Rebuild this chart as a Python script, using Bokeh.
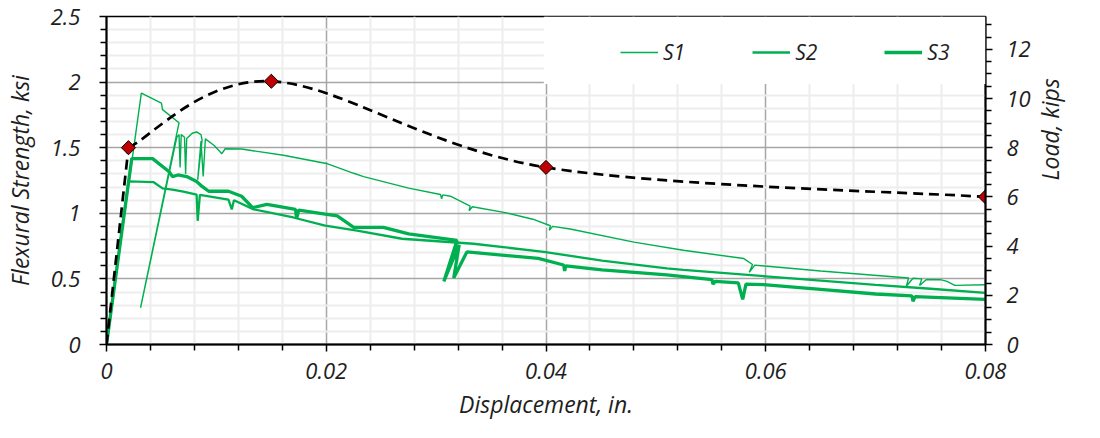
import math
from bokeh.plotting import figure
from bokeh.models import (Range1d, LinearAxis, FixedTicker, Legend, LegendItem,
                          BoxAnnotation)
from bokeh.embed import file_html
from bokeh.resources import INLINE

# ---------------- data ----------------
x_ticks = [0.0, 0.02, 0.04, 0.06, 0.08]
x_tick_labels = ["0", "0.02", "0.04", "0.06", "0.08"]
y_ticks = [0.0, 0.5, 1.0, 1.5, 2.0, 2.5]
y_tick_labels = ["0", "0.5", "1", "1.5", "2", "2.5"]
load_ticks = [0, 2, 4, 6, 8, 10, 12]

s1_x = [0.0, 0.00317, 0.0050, 0.0051, 0.0066, 0.0031, 0.0064, 0.0066, 0.0067, 0.0068,
        0.0071, 0.0072, 0.0073, 0.0078, 0.0082, 0.0086, 0.0087, 0.0083, 0.0086, 0.0088,
        0.0090, 0.0098, 0.0105, 0.0108, 0.0123, 0.0161, 0.0200, 0.0225, 0.0234, 0.0275,
        0.0304, 0.0305, 0.0306, 0.0313, 0.0331, 0.0330, 0.0333, 0.0363, 0.0388, 0.0404,
        0.0403, 0.0406, 0.0422, 0.0480, 0.0525, 0.0575, 0.0580, 0.0588, 0.0585, 0.0590,
        0.0650, 0.0730, 0.0728, 0.0734, 0.0742, 0.0740, 0.0746, 0.0759, 0.0765, 0.0772,
        0.0800]
s1_y = [0.0, 1.916, 1.840, 1.790, 1.690, 0.280, 1.580, 1.600, 1.350, 1.600,
        1.580, 1.300, 1.570, 1.610, 1.620, 1.600, 1.560, 1.255, 1.550, 1.280,
        1.567, 1.517, 1.454, 1.492, 1.490, 1.442, 1.380, 1.305, 1.280, 1.192,
        1.143, 1.110, 1.140, 1.130, 1.055, 1.020, 1.050, 1.005, 0.955, 0.905,
        0.870, 0.900, 0.880, 0.780, 0.718, 0.661, 0.655, 0.610, 0.550, 0.605,
        0.560, 0.507, 0.444, 0.505, 0.500, 0.450, 0.494, 0.494, 0.481, 0.451,
        0.455]

s2_x = [0.0, 0.0020, 0.0043, 0.0051, 0.0060, 0.0070, 0.0082, 0.0083, 0.0085, 0.0100,
        0.0111, 0.0114, 0.0116, 0.0134, 0.0170, 0.0199, 0.0228, 0.0269, 0.0334, 0.0398,
        0.0451, 0.0510, 0.0525, 0.0600, 0.0700, 0.0750, 0.0800]
s2_y = [0.0, 1.243, 1.237, 1.190, 1.180, 1.165, 1.143, 0.943, 1.140, 1.120,
        1.105, 1.030, 1.100, 1.030, 0.968, 0.906, 0.868, 0.806, 0.768, 0.706,
        0.640, 0.581, 0.569, 0.520, 0.455, 0.425, 0.394]

s3_x = [0.0, 0.0023, 0.0042, 0.0057, 0.0060, 0.0065, 0.0073, 0.0082, 0.0087, 0.0093,
        0.0111, 0.0123, 0.0133, 0.0146, 0.0172, 0.0173, 0.0175, 0.0199, 0.0210, 0.0225,
        0.0252, 0.0275, 0.0319, 0.0307, 0.0321, 0.0316, 0.0328, 0.0393, 0.0416, 0.0417,
        0.0418, 0.0451, 0.0510, 0.0551, 0.0552, 0.0554, 0.0575, 0.0579, 0.0582, 0.0598,
        0.0650, 0.0700, 0.0733, 0.0734, 0.0736, 0.0800]
s3_y = [0.0, 1.417, 1.417, 1.317, 1.280, 1.292, 1.280, 1.243, 1.205, 1.168,
        1.168, 1.130, 1.043, 1.068, 1.030, 0.960, 1.025, 0.993, 0.980, 0.893,
        0.893, 0.843, 0.793, 0.481, 0.760, 0.507, 0.706, 0.656, 0.606, 0.560,
        0.600, 0.569, 0.530, 0.494, 0.460, 0.481, 0.470, 0.344, 0.460, 0.457,
        0.420, 0.385, 0.370, 0.330, 0.365, 0.344]

load_x = [0.0, 0.002, 0.015, 0.04, 0.08]
load_kips = [0.0, 8.0, 10.7, 7.2, 6.0]

KSI_TO_KIPS = 16.0 / 3.0

# ---------------- styling ----------------
FONT = "Open Sans"
GREEN = "#00B050"
TXT = "#1e1e1e"

p = figure(width=1084, height=422, output_backend="svg", toolbar_location=None,
           x_range=Range1d(0, 0.08), y_range=Range1d(0, 2.5),
           min_border_left=104, min_border_right=79, min_border_top=16,
           min_border_bottom=76, background_fill_color="white",
           border_fill_color="white")
p.extra_y_ranges = {"load": Range1d(0, 2.5 * KSI_TO_KIPS)}
p.outline_line_color = "black"
p.outline_line_width = 1.5

# minor positions (major positions excluded so the grid does not overdraw)
x_minor = [i * 0.004 for i in range(21) if i % 5]
y_minor = [i * 0.1 for i in range(26) if i % 5]
load_minor = [i * 0.5 for i in range(27) if i % 4]

left = p.left[0]
bottom = p.below[0]
left.ticker = FixedTicker(ticks=y_ticks, minor_ticks=y_minor)
bottom.ticker = FixedTicker(ticks=x_ticks, minor_ticks=x_minor)
bottom.major_label_overrides = dict(zip(x_ticks, x_tick_labels))
left.major_label_overrides = dict(zip(y_ticks, y_tick_labels))
bottom.axis_label = "Displacement, in."
left.axis_label = "Flexural Strength, ksi"

right = LinearAxis(y_range_name="load",
                   ticker=FixedTicker(ticks=load_ticks, minor_ticks=load_minor),
                   axis_label="Load, kips")
right.axis_label_orientation = math.pi / 2
p.add_layout(right, "right")

for ax in (left, bottom, right):
    ax.axis_line_color = "black"
    ax.axis_line_width = 2
    ax.major_tick_line_color = "black"
    ax.minor_tick_line_color = "black"
    ax.major_tick_line_width = 1.5
    ax.minor_tick_line_width = 1.5
    ax.major_tick_in = 0
    ax.major_tick_out = 7
    ax.minor_tick_in = 0
    ax.minor_tick_out = 6
    ax.major_label_text_font = FONT
    ax.major_label_text_font_style = "italic"
    ax.major_label_text_font_size = "22px"
    ax.major_label_text_color = TXT
    ax.axis_label_text_font = FONT
    ax.axis_label_text_font_style = "italic"
    ax.axis_label_text_font_size = "23px"
    ax.axis_label_text_color = TXT

bottom.major_label_standoff = 11
bottom.axis_label_standoff = 6
left.major_label_standoff = 19
left.axis_label_standoff = 12
right.major_label_standoff = 14
right.axis_label_standoff = 16

# grids
p.xgrid.ticker = FixedTicker(ticks=x_ticks, minor_ticks=x_minor)
p.ygrid.ticker = FixedTicker(ticks=y_ticks, minor_ticks=y_minor)
for g in (p.xgrid[0], p.ygrid[0]):
    g.grid_line_color = "#a6a6a6"
    g.grid_line_width = 1.5
    g.minor_grid_line_color = "#ededed"
    g.minor_grid_line_width = 2

# ---------------- series ----------------
r1 = p.line(s1_x, s1_y, line_color=GREEN, line_width=1.4)
r2 = p.line(s2_x, s2_y, line_color=GREEN, line_width=2.3)
r3 = p.line(s3_x, s3_y, line_color=GREEN, line_width=3.3)

# dashed load curve: straight first leg, smoothed through the diamonds
p.line(load_x[:2], load_kips[:2], y_range_name="load", line_color="black",
       line_width=2.7, line_dash="10 6")
px = load_x[1:]
py = load_kips[1:]
n = len(px)
bx0, by0, bx1, by1, cx0, cy0, cx1, cy1 = [], [], [], [], [], [], [], []
for i in range(n - 1):
    a = i - 1 if i > 0 else i
    d = i + 2 if i + 2 < n else i + 1
    bx0.append(px[i]); by0.append(py[i])
    bx1.append(px[i + 1]); by1.append(py[i + 1])
    cx0.append(px[i] + (px[i + 1] - px[a]) / 6.0)
    cy0.append(py[i] + (py[i + 1] - py[a]) / 6.0)
    cx1.append(px[i + 1] - (px[d] - px[i]) / 6.0)
    cy1.append(py[i + 1] - (py[d] - py[i]) / 6.0)
p.bezier(x0=bx0, y0=by0, x1=bx1, y1=by1, cx0=cx0, cy0=cy0, cx1=cx1, cy1=cy1,
         y_range_name="load", line_color="black", line_width=2.7, line_dash="10 6")
p.scatter(px, py, y_range_name="load", marker="square", angle=math.pi / 4,
          size=10, fill_color="#C00000", line_color="black", line_width=1)

# legend background and legend
box = BoxAnnotation(left=0.0398, right=0.08, bottom=1.985, top=2.5,
                    fill_color="white", fill_alpha=1.0, line_alpha=0.0)
p.add_layout(box)

legend = Legend(items=[LegendItem(label="S1", renderers=[r1]),
                       LegendItem(label="S2", renderers=[r2]),
                       LegendItem(label="S3", renderers=[r3])],
                orientation="horizontal", location=(514, 278),
                background_fill_alpha=0.0, border_line_alpha=0.0,
                padding=0, margin=0, spacing=67, glyph_width=38, glyph_height=20,
                label_standoff=5, label_text_font=FONT,
                label_text_font_style="italic", label_text_font_size="21px",
                label_text_color=TXT, label_text_baseline="middle")
p.add_layout(legend)

open("out.html", "w").write(file_html(p, INLINE))
